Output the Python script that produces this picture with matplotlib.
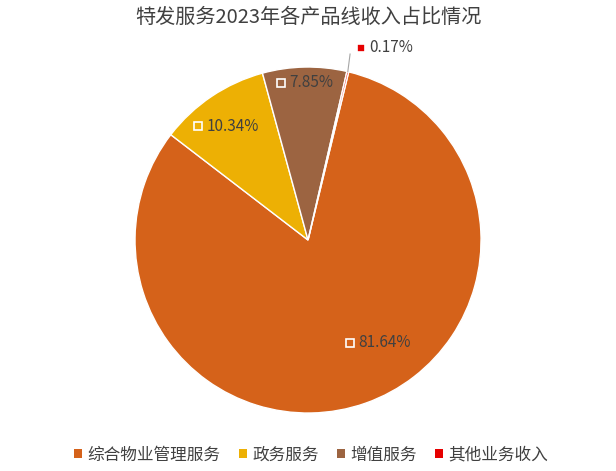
import numpy as np
import matplotlib
matplotlib.use('Agg')
import matplotlib.pyplot as plt

plt.rcParams['font.family'] = ['Noto Sans CJK SC', 'DejaVu Sans']

# データ
title = '特发服务2023年各产品线收入占比情况'
categories = ['综合物业管理服务', '政务服务', '增值服务', '其他业务收入']
shares = [81.64, 10.34, 7.85, 0.17]
colors = ['#D5621A', '#EDB004', '#9C6441', '#E60000']

# ラベル位置 (半径=1 の座標系)
label_pos = [(0.243, -0.595), (-0.636, 0.659), (-0.156, 0.908), (0.306, 1.11)]
text_color = '#404040'

fig = plt.figure(figsize=(6.16, 4.71), dpi=100)
ax = fig.add_axes([0.2192, 0.1231, 0.5617, 0.7346])

wedges, _ = ax.pie(shares, colors=colors, startangle=76.4, counterclock=False,
                   radius=1.0, wedgeprops=dict(edgecolor='white', linewidth=1.0))
ax.set_xlim(-1, 1)
ax.set_ylim(-1, 1)
ax.set_aspect('auto')
ax.axis('off')

for w, c, v, (lx, ly) in zip(wedges, colors, shares, label_pos):
    ax.plot(lx, ly, marker='s', ms=6, mfc=c, mec='white', mew=1.2, clip_on=False, zorder=5)
    ax.text(lx + 0.05, ly, '{:.2f}%'.format(v), ha='left', va='center',
            fontsize=11, color=text_color, clip_on=False, zorder=5)

# 小さいスライスの引き出し線
w = wedges[3]
mid = np.deg2rad((w.theta1 + w.theta2) / 2)
x0, y0 = np.cos(mid), np.sin(mid)
ax.plot([x0, 0.243], [y0, 1.075], color='#A6A6A6', lw=0.8, clip_on=False)

fig.text(0.5, 1 - 17 / 471, title, ha='center', va='center', fontsize=14.5, color=text_color)

handles = [plt.Rectangle((0, 0), 1, 1, fc=c, ec='none') for c in colors]
fig.legend(handles, categories, loc='center', bbox_to_anchor=(0.505, 1 - 455 / 471),
           ncol=4, frameon=False, fontsize=12, handlelength=0.5, handleheight=0.5,
           handletextpad=0.3, columnspacing=1.1, labelcolor=text_color)

fig.savefig('out.png', dpi=100)
